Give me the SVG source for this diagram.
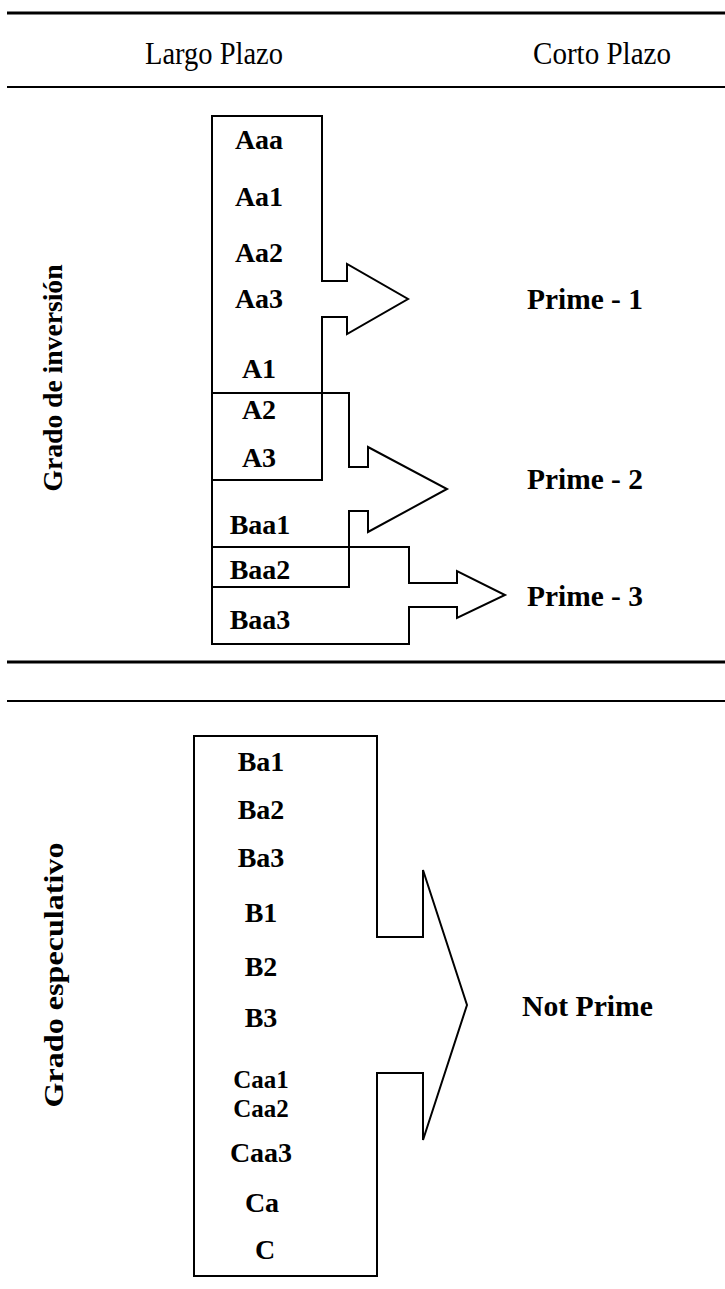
<svg xmlns="http://www.w3.org/2000/svg" width="725" height="1289" viewBox="0 0 725 1289">
<style>
text{font-family:"Liberation Serif","Times New Roman",serif;fill:#000}
.lbl{font-size:28px;font-weight:bold;text-anchor:middle}
.tight{font-size:25px}
.prime{font-size:29px;font-weight:bold}
.hdr{font-size:32px;text-anchor:middle}
.side{font-size:28px;font-weight:bold;text-anchor:middle}
.shape{fill:none;stroke:#000;stroke-width:2;stroke-linejoin:miter}
.rule{stroke:#000}
</style>
<rect width="725" height="1289" fill="#fff"/>
<g id="rules">
<line class="rule" x1="7" y1="13" x2="725" y2="13" stroke-width="3"/>
<line class="rule" x1="7" y1="87" x2="725" y2="87" stroke-width="2"/>
<line class="rule" x1="7" y1="662" x2="725" y2="662" stroke-width="3"/>
<line class="rule" x1="7" y1="701" x2="725" y2="701" stroke-width="2"/>
</g>
<g id="headers">
<text class="hdr" x="214" y="64" textLength="138" lengthAdjust="spacingAndGlyphs">Largo Plazo</text>
<text class="hdr" x="602" y="64" textLength="138" lengthAdjust="spacingAndGlyphs">Corto Plazo</text>
</g>
<g id="side-labels">
<text class="side" transform="translate(62,378) rotate(-90)" textLength="227" lengthAdjust="spacingAndGlyphs">Grado de inversión</text>
<text class="side" transform="translate(63,975) rotate(-90)" textLength="265" lengthAdjust="spacingAndGlyphs">Grado especulativo</text>
</g>
<g id="connectors">
<path id="arrow-prime1" class="shape" d="M212,116 H322 V281 H347 V264 L408,299 L347,334 V317 H322 V480 H212 Z"/>
<path id="arrow-prime2" class="shape" d="M212,393 H349 V467 H368 V447 L447,489 L368,532 V511 H349 V587 H212 Z"/>
<path id="arrow-prime3" class="shape" d="M212,547 H409 V583 H457 V571 L505,595 L457,618 V607 H409 V644 H212 Z"/>
<path id="arrow-notprime" class="shape" d="M194,736 H377 V937 H423 V870 L467,1005 L423,1140 V1073 H377 V1276 H194 Z"/>
</g>
<g id="node-investment">
<text class="lbl" x="259" y="149">Aaa</text>
<text class="lbl" x="259" y="206">Aa1</text>
<text class="lbl" x="259" y="262">Aa2</text>
<text class="lbl" x="259" y="308">Aa3</text>
<text class="lbl" x="259" y="378">A1</text>
<text class="lbl" x="259" y="419">A2</text>
<text class="lbl" x="259" y="467">A3</text>
<text class="lbl" x="260" y="534">Baa1</text>
<text class="lbl" x="260" y="579">Baa2</text>
<text class="lbl" x="260" y="629">Baa3</text>
</g>
<g id="node-prime1"><text class="prime" x="527" y="309" textLength="116" lengthAdjust="spacingAndGlyphs">Prime - 1</text></g>
<g id="node-prime2"><text class="prime" x="527" y="489" textLength="116" lengthAdjust="spacingAndGlyphs">Prime - 2</text></g>
<g id="node-prime3"><text class="prime" x="527" y="606" textLength="116" lengthAdjust="spacingAndGlyphs">Prime - 3</text></g>
<g id="node-speculative">
<text class="lbl" x="261" y="771">Ba1</text>
<text class="lbl" x="261" y="819">Ba2</text>
<text class="lbl" x="261" y="867">Ba3</text>
<text class="lbl" x="261" y="922">B1</text>
<text class="lbl" x="261" y="976">B2</text>
<text class="lbl" x="261" y="1027">B3</text>
<text class="lbl tight" x="261" y="1088">Caa1</text>
<text class="lbl tight" x="261" y="1117">Caa2</text>
<text class="lbl" x="261" y="1162">Caa3</text>
<text class="lbl" x="262" y="1212">Ca</text>
<text class="lbl" x="265" y="1259">C</text>
</g>
<g id="node-notprime"><text class="prime" x="522" y="1016" textLength="131" lengthAdjust="spacingAndGlyphs">Not Prime</text></g>
</svg>
